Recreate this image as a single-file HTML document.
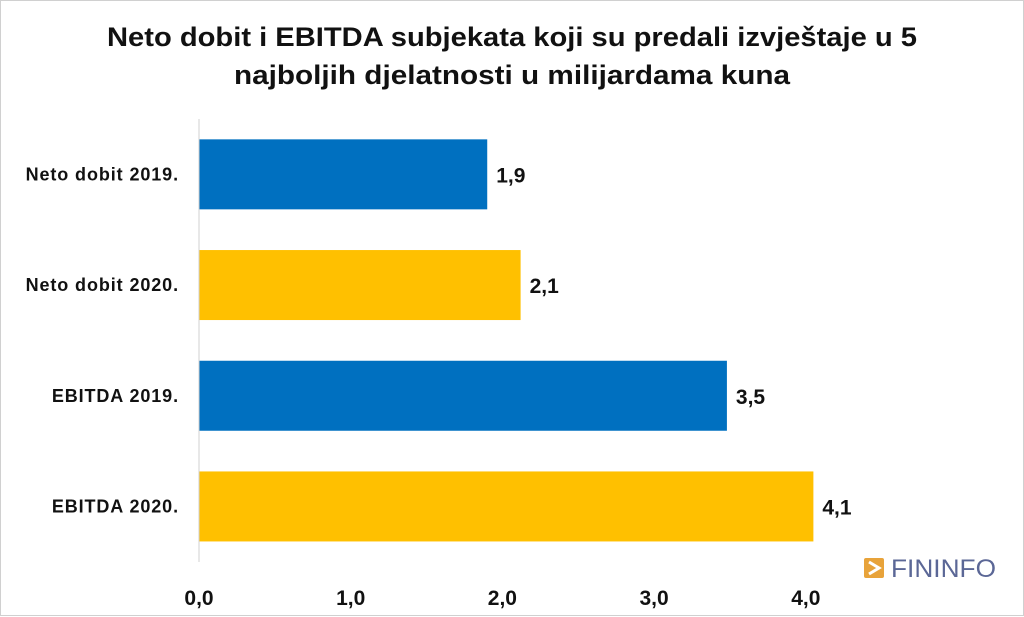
<!DOCTYPE html>
<html><head><meta charset="utf-8"><style>
html,body{margin:0;padding:0;background:#fff;}
#wrap{position:relative;width:1024px;height:617px;overflow:hidden;font-family:"Liberation Sans",sans-serif;}
svg text{font-family:"Liberation Sans",sans-serif;}
</style></head><body>
<div id="wrap">
<svg id="chart" width="1024" height="617">
<rect x="0.5" y="0.5" width="1023" height="615" fill="#fff" stroke="#d0d0d0"/>
<text x="512" y="46" text-anchor="middle" font-size="27" font-weight="bold" fill="#111" textLength="810" lengthAdjust="spacingAndGlyphs">Neto dobit i EBITDA subjekata koji su predali izvještaje u 5</text>
<text x="512" y="84" text-anchor="middle" font-size="27" font-weight="bold" fill="#111" textLength="556" lengthAdjust="spacingAndGlyphs">najboljih djelatnosti u milijardama kuna</text>
<g id="bars"></g>
<line x1="199" y1="119" x2="199" y2="562" stroke="#d0d0d0" stroke-width="1"/>
<g id="ticks"></g>
<g>
<rect x="864" y="558" width="20" height="20" rx="2" fill="#E8A33A"/>
<path d="M869 562 L879 568 L869 574" fill="none" stroke="#fff" stroke-width="3"/>
<text x="891" y="577" font-size="25" fill="#5b6796" textLength="105" lengthAdjust="spacingAndGlyphs">FININFO</text>
</g>
</svg>
</div>
<script>
const categories=["Neto dobit 2019.","Neto dobit 2020.","EBITDA 2019.","EBITDA 2020."];
const values=[1.9,2.12,3.48,4.05];
const printedValues=["1,9","2,1","3,5","4,1"];
const barColors=["#0070C0","#FFC000","#0070C0","#FFC000"];
const tickValues=[0,1,2,3,4];
const tickLabels=["0,0","1,0","2,0","3,0","4,0"];
const NS="http://www.w3.org/2000/svg";
const plotX0=199,pxPerUnit=151.7,plotTop=119,bandH=110.7,barH=70;
function xs(v){return plotX0+v*pxPerUnit;}
function yBand(i){return plotTop+i*bandH;}
const gb=document.getElementById('bars');
categories.forEach((c,i)=>{
  const y=yBand(i)+(bandH-barH)/2;
  const r=document.createElementNS(NS,'rect');
  r.setAttribute('x',xs(0));r.setAttribute('y',y);
  r.setAttribute('width',xs(values[i])-xs(0));r.setAttribute('height',barH);
  r.setAttribute('fill',barColors[i]);
  
  
  gb.appendChild(r);
  const l=document.createElementNS(NS,'text');
  l.setAttribute('x',179);l.setAttribute('y',y+barH/2+6);
  l.setAttribute('text-anchor','end');l.setAttribute('font-size','18');l.setAttribute('font-weight','bold');l.setAttribute('fill','#111');
  l.setAttribute('letter-spacing','0.9');
  l.textContent=c;
  
  
  gb.appendChild(l);
  const v=document.createElementNS(NS,'text');
  v.setAttribute('x',xs(values[i])+9);v.setAttribute('y',y+barH/2+8);
  v.setAttribute('font-size','21');v.setAttribute('font-weight','bold');v.setAttribute('fill','#111');
  v.textContent=printedValues[i];
  
  
  gb.appendChild(v);
});
const gt=document.getElementById('ticks');
tickValues.forEach((t,i)=>{
  const tx=document.createElementNS(NS,'text');
  tx.setAttribute('x',xs(t));tx.setAttribute('y',605);
  tx.setAttribute('text-anchor','middle');tx.setAttribute('font-size','21');tx.setAttribute('font-weight','bold');tx.setAttribute('fill','#111');
  tx.textContent=tickLabels[i];
  
  
  gt.appendChild(tx);
});
</script>
</body></html>
